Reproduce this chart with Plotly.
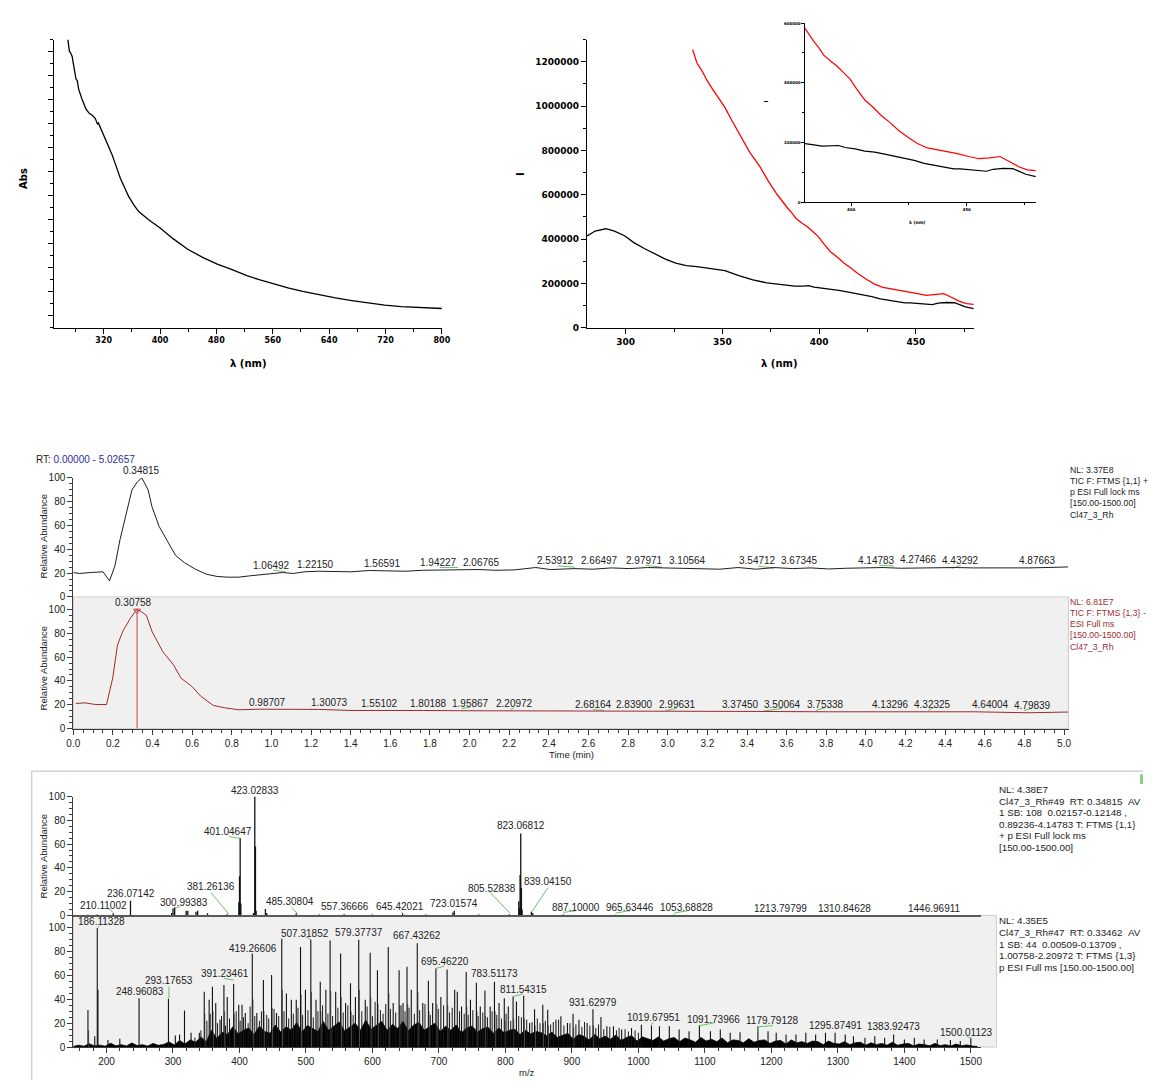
import plotly.graph_objects as go

W, H = 1152, 1086
def fx(p): return p / W
def fy(p): return 1 - p / H

# ---------------- Panel A: absorbance ----------------
abs_wl = [269.0, 271.4, 273.0, 275.2, 277.0, 280.8, 282.5, 284.5, 289.2, 294.8,
          299.5, 304.1, 308.0, 311.1, 312.5, 315.5, 320.4, 326.4, 332.1, 337.9,
          343.7, 349.6, 355.4, 362.6, 369.4, 383.4, 399.7, 418.4, 439.3, 460.4,
          481.2, 502.3, 523.2, 541.9, 560.5, 581.6, 602.4, 625.6, 649.0, 672.3,
          695.7, 718.9, 742.3, 770.3, 800.0]
abs_val = [1.205, 1.152, 1.145, 1.131, 1.100, 1.035, 1.030, 0.994, 0.953, 0.911,
           0.893, 0.884, 0.872, 0.849, 0.853, 0.833, 0.801, 0.760, 0.719, 0.671,
           0.623, 0.584, 0.547, 0.513, 0.485, 0.451, 0.416, 0.371, 0.327, 0.293,
           0.265, 0.242, 0.217, 0.199, 0.183, 0.166, 0.151, 0.137, 0.124, 0.113,
           0.103, 0.094, 0.088, 0.084, 0.080]

# ---------------- Panel B: fluorescence ----------------
fl_wl_black = [280.1, 284.2, 289.7, 294.2, 299.6, 304.2, 309.6, 315.0, 320.5, 325.9,
               331.3, 336.8, 344.0, 351.3, 358.5, 365.8, 373.0, 380.0, 383.1, 387.4,
               391.7, 394.5, 397.4, 401.7, 405.9, 410.2, 414.5, 418.7, 423.0, 427.3,
               431.6, 435.8, 440.1, 444.4, 447.2, 451.5, 455.8, 458.6, 461.5, 465.8,
               470.0, 472.9, 475.7, 480.0]
fl_black = [413900, 436200, 446600, 436200, 413900, 384100, 357300, 332000, 309700, 291800,
            279900, 275400, 268000, 257600, 235200, 215900, 202500, 196700, 193400, 187900,
            187900, 190100, 183400, 179000, 171300, 168000, 161300, 154700, 145900, 140300,
            130400, 123800, 119300, 111600, 111600, 108300, 105000, 103900, 110500, 113800,
            112700, 102800, 93900, 86200]
fl_wl_red = [334.6, 336.8, 339.5, 342.2, 344.9, 348.6, 351.3, 354.9, 359.4, 364.0,
             369.4, 373.9, 378.4, 381.7, 383.8, 386.0, 388.1, 391.0, 393.8, 396.7,
             399.5, 402.4, 405.9, 409.5, 413.0, 416.6, 420.2, 424.4, 428.7, 433.0,
             437.0, 440.0, 445.5, 450.9, 455.4, 460.0, 464.5, 468.1, 472.6, 476.3, 480.0]
fl_red = [1255100, 1195500, 1158300, 1113600, 1076400, 1031700, 994500, 935000, 868000, 793500,
          726500, 659500, 600000, 561300, 539200, 517100, 492800, 472900, 456400, 434300,
          412200, 379000, 342600, 318200, 290600, 268500, 243100, 218800, 196700, 182000,
          176000, 172700, 163800, 153300, 145900, 148900, 153300, 138500, 119100, 108700, 105700]

# ---------------- Chromatograms ----------------
chrom_t1 = [0, 0.031, 0.086, 0.150, 0.183, 0.210, 0.236, 0.265, 0.296, 0.324,
            0.346, 0.378, 0.397, 0.433, 0.470, 0.516, 0.561, 0.616, 0.671, 0.726,
            0.781, 0.835, 0.890, 0.945, 1.000, 1.055, 1.110, 1.165, 1.238, 1.311,
            1.402, 1.494, 1.585, 1.676, 1.768, 1.859, 1.950, 2.042, 2.133, 2.225,
            2.334, 2.408, 2.532, 2.623, 2.715, 2.806, 2.898, 2.989, 3.080, 3.172,
            3.263, 3.355, 3.446, 3.537, 3.629, 3.720, 3.812, 3.903, 3.995, 4.086,
            4.178, 4.269, 4.360, 4.452, 4.543, 4.635, 4.726, 4.818, 4.909, 5.020]
chrom_a1 = [20.5, 19.7, 20.5, 21.1, 13.6, 26.0, 48.2, 67.6, 89.8, 96.7,
            100, 89.8, 75.9, 59.3, 48.2, 34.9, 28.8, 23.3, 19.1, 17.2,
            16.6, 16.6, 17.7, 18.6, 19.7, 20.5, 19.7, 21.1, 21.6, 21.1,
            21.1, 22.2, 21.9, 21.6, 22.4, 22.7, 22.7, 23.0, 22.4, 22.7,
            24.7, 23.0, 23.8, 23.3, 24.4, 23.8, 24.7, 24.4, 24.1, 24.1,
            23.3, 24.7, 23.3, 24.7, 23.8, 24.4, 23.5, 24.1, 24.4, 24.7,
            24.1, 24.4, 24.1, 24.7, 24.4, 24.4, 23.8, 24.4, 24.7, 25.2]
chrom_t2 = [0.013, 0.059, 0.113, 0.168, 0.199, 0.223, 0.250, 0.287, 0.320, 0.342,
            0.369, 0.397, 0.452, 0.506, 0.543, 0.598, 0.644, 0.707, 0.762, 0.835,
            0.945, 1.091, 1.238, 1.402, 1.585, 1.768, 1.950, 2.133, 2.316, 2.532,
            2.715, 3.080, 3.446, 3.812, 4.178, 4.452, 4.543, 4.818, 5.020]
chrom_a2 = [21.1, 21.6, 20.2, 20.2, 42.4, 70.1, 81.7, 92.2, 100, 98.3,
            95.0, 81.7, 64.5, 53.5, 42.4, 35.5, 27.1, 19.4, 17.5, 15.8,
            16.3, 16.1, 16.1, 15.2, 15.5, 15.2, 15.0, 15.0, 14.7, 14.7,
            14.7, 14.4, 14.4, 14.1, 14.1, 13.6, 14.1, 13.3, 13.9]
peak_marker_t = 0.322

chrom1_lbl = ["0.34815", "1.06492", "1.22150", "1.56591", "1.94227", "2.06765", "2.53912", "2.66497",
              "2.97971", "3.10564", "3.54712", "3.67345", "4.14783", "4.27466", "4.43292", "4.87663"]
chrom1_lbl_t = [0.346, 1.000, 1.220, 1.558, 1.841, 2.061, 2.435, 2.656,
                2.885, 3.099, 3.455, 3.665, 4.055, 4.265, 4.475, 4.866]
chrom1_lbl_y = [106.2, 26.0, 27.2, 27.7, 28.8, 29.3, 30.5, 31.0,
                31.0, 31.0, 30.5, 31.0, 31.0, 31.5, 31.0, 31.0]
chrom2_lbl = ["0.30758", "0.98707", "1.30073", "1.55102", "1.80188", "1.95867", "2.20972", "2.68164", "2.83900",
              "2.99631", "3.37450", "3.50064", "3.75338", "4.13296", "4.32325", "4.64004", "4.79839"]
chrom2_lbl_t = [0.3055, 0.982, 1.293, 1.545, 1.795, 2.005, 2.225, 2.623, 2.833,
                3.049, 3.367, 3.577, 3.797, 4.126, 4.336, 4.630, 4.841]
chrom2_lbl_y = [106.2, 21.6, 21.6, 21.0, 21.0, 21.0, 21.0, 20.2, 20.2,
                20.2, 20.2, 20.2, 20.2, 20.2, 20.2, 20.2, 19.7]
chrom1_green_t = [1.009, 1.073, None, 1.850, 1.942, None, 2.444, 2.532, None, 2.888, 2.971, None,
                  3.455, 3.537, None, 4.068, 4.141, None, 4.433, 4.479]
chrom1_green_y = [22.4, 21.1, None, 24.7, 24.7, None, 26.0, 25.0, None, 26.6, 24.9, None,
                  26.0, 24.0, None, 26.6, 26.0, None, 24.0, 26.6]
chrom2_green_t = [1.960, 2.005, None, 2.207, 2.225, None, 2.623, 2.678, None, 2.989, 3.044, None,
                  3.482, 3.577, None, 3.747, 3.793, None, 4.314, 4.342, None, 4.798, 4.835]
chrom2_green_y = [16.9, 18.0, None, 16.0, 17.5, None, 16.0, 15.2, None, 15.2, 16.9, None,
                  14.7, 16.9, None, 15.2, 17.5, None, 15.2, 17.5, None, 15.2, 16.9]
chrom1_info = ["NL: 3.37E8", "TIC F: FTMS {1,1} +", "p ESI Full lock ms",
               "[150.00-1500.00]", "Cl47_3_Rh"]
chrom2_info = ["NL: 6.81E7", "TIC F: FTMS {1,3} -", "ESI Full ms",
               "[150.00-1500.00]", "Cl47_3_Rh"]

# ---------------- Mass spectra ----------------
ms1_mz = [172.1, 186.1, 210.11, 236.07, 298.0, 300.0, 302.5, 319.8, 322.3, 334.6,
          337.1, 351.9, 381.26, 399.05, 400.05, 401.05, 402.05, 421.03, 423.03, 424.03,
          425.03, 439.0, 441.0, 485.31, 520.0, 557.37, 600.0, 645.42, 680.0, 721.0,
          723.02, 760.0, 805.53, 820.07, 821.07, 822.07, 823.07, 824.07, 825.07, 839.04,
          841.0, 887.1, 965.63, 1053.69]
ms1_int = [0.5, 0.8, 1.8, 12.3, 2.0, 5.8, 6.7, 3.9, 3.9, 3.1,
           3.9, 1.7, 1.0, 11.0, 33.0, 65.0, 10.0, 2.0, 100.0, 58.0,
           4.0, 5.3, 2.0, 1.5, 0.8, 1.0, 0.8, 1.5, 0.8, 2.5,
           3.9, 0.8, 1.0, 12.0, 6.0, 34.0, 69.0, 23.0, 5.0, 3.0,
           2.0, 0.8, 0.6, 0.5]
ms1_lbl = ["423.02833", "401.04647", "823.06812", "381.26136", "236.07142", "210.11002", "300.99383",
           "485.30804", "557.36666", "645.42021", "723.01574", "805.52838", "839.04150", "887.10000",
           "965.63446", "1053.68828", "1213.79799", "1310.84628", "1446.96911"]
ms1_lbl_x = [423.7, 382.5, 823.1, 357.0, 237.5, 195.0, 317.3, 475.5, 558.4, 641.3, 723.0, 780.0,
             864.0, 906.2, 987.3, 1072.8, 1213.6, 1310.3, 1445.8]
ms1_lbl_y = [104.9, 70.3, 75.3, 23.9, 18.1, 8.0, 11.1, 11.8, 7.25, 7.25, 10.0, 22.9,
             28.6, 6.7, 6.4, 6.4, 5.8, 5.8, 5.6]
ms1_green_mz = [203, 210, None, 301, 311, None, 357, 384, None, 384, 401.4, None, 478, 488, None,
                643.6, 646, None, 777, 807, None, 864, 839, None, 887, 906, None, 966, 987, None, 1054, 1074]
ms1_green_int = [5.5, 2.5, None, 5.8, 7.5, None, 19.2, 1.1, None, 66.4, 64.7, None, 6.7, 1.1, None,
                 2.5, 1.5, None, 19.2, 1.9, None, 23.3, 2.5, None, 2.5, 3.9, None, 2.0, 3.9, None, 2.0, 3.9]

ms2_mz = [172.1, 182.3, 186.11, 187.11, 202.1, 220.0, 248.96, 293.18, 303.5, 309.9,
          317.3, 327.2, 339.6, 347.0, 354.4, 359.3, 364.3, 370.7, 376.6, 381.6,
          391.23, 398.9, 403.8, 408.8, 419.27, 426.1, 436.0, 448.3, 455.7, 463.6,
          470.6, 478.0, 485.4, 491.8, 499.2, 507.32, 515.1, 521.5, 529.9, 536.3,
          544.7, 552.1, 559.6, 567.0, 574.4, 579.38, 589.2, 596.6, 607.5, 623.8,
          631.2, 640.1, 646.0, 652.0, 658.4, 667.43, 675.7, 684.1, 690.5, 695.46,
          702.9, 712.3, 723.7, 727.6, 734.0, 741.0, 747.4, 756.3, 762.2, 769.2,
          777.1, 783.51, 790.4, 798.3, 804.3, 811.54, 816.6, 827.5, 836.4, 843.8,
          856.2, 863.6, 876.0, 883.4, 893.3, 901.7, 910.6, 922.9, 931.63, 943.7,
          952.6, 962.5, 974.8, 989.7, 1004.5, 1019.68, 1031.7, 1046.5, 1061.3, 1076.2,
          1091.74, 1108.4, 1123.2, 1138.1, 1152.9, 1179.79, 1195.0, 1207.3, 1222.1, 1237.0,
          1251.8, 1266.6, 1281.4, 1295.87, 1311.1, 1323.5, 1340.8, 1355.6, 1370.4, 1383.92,
          1400.1, 1415.0, 1429.8, 1449.5, 1469.3, 1484.2, 1500.01]
ms2_int = [31, 9, 100, 48, 5.8, 7, 41, 40.5, 9.7, 10.5,
           30.7, 12, 12, 46.5, 39.6, 50.7, 37, 23, 52, 42,
           53, 35.5, 35.5, 28.5, 78.4, 28.5, 56.2, 60.4, 28.5, 90.8,
           45, 39.6, 39.6, 84, 48, 90, 39.6, 54.8, 48, 89.4,
           46.5, 78.4, 37, 53.5, 42, 90, 39.6, 79.2, 64.5, 84,
           37, 64.5, 37, 67.3, 48, 87.2, 37, 55.7, 37, 66,
           42, 65, 48, 46.5, 34, 63, 39.6, 54, 34, 47.4,
           34, 54.8, 37, 41, 34, 42.4, 38.2, 43, 20.2, 31.8,
           35.5, 31.3, 23, 25.8, 20.2, 28, 23, 20.2, 31.8, 25.2,
           17.5, 17.5, 14.7, 16, 18.8, 18, 17.5, 17.5, 14.7, 13.3,
           18, 13.3, 14.7, 12, 12.5, 17.5, 13.3, 12, 10.5, 10.5,
           12, 10.5, 12, 12, 10.5, 9, 7.8, 9, 7.8, 10.5,
           6.4, 7.8, 6.4, 6.4, 5.8, 5, 7.8]
ms2_sat_mz = [173.1, 347.9, 360.3, 377.6, 392.2, 420.3, 437.0, 449.3, 464.6, 492.8,
              508.3, 522.5, 537.3, 553.1, 568.0, 580.4, 597.6, 608.5, 624.8, 641.1,
              653.0, 668.4, 685.1, 697.0, 713.3, 742.0, 757.3, 770.2, 784.5, 799.3,
              812.5, 828.5, 844.8, 857.2, 864.6, 902.7, 932.6]
ms2_sat_int = [14, 28, 30, 30, 28, 40, 30, 33, 48, 44,
               46, 30, 47, 42, 30, 48, 42, 36, 45, 35,
               36, 46, 30, 36, 35, 34, 30, 26, 30, 22,
               24, 24, 18, 20, 18, 16, 18]
ms2_mid_mz = [333, 342, 351, 356, 367, 373, 379, 385, 395, 401,
              406, 413, 416, 423, 430, 433, 441, 444, 452, 459,
              467, 474, 481, 488, 495, 503, 511, 518, 525, 533,
              540, 548, 556, 563, 571, 584, 592, 600, 604, 612,
              616, 620, 627, 635, 643, 649, 655, 663, 671, 679,
              687, 699, 707, 716, 720, 731, 738, 744, 751, 759,
              766, 773, 780, 787, 794, 801, 808, 820, 824, 832,
              840, 848, 852, 860, 868, 872, 880, 888, 897, 906,
              915, 919, 927, 936, 940, 948, 957, 967, 971, 980,
              985, 995, 1000]
ms2_mid_int = [8, 14, 22, 28, 20, 26, 18, 24, 30, 22,
               25, 20, 34, 26, 22, 30, 27, 24, 32, 26,
               30, 24, 28, 33, 27, 31, 25, 30, 35, 28,
               26, 33, 29, 35, 27, 30, 34, 26, 38, 31,
               28, 36, 32, 29, 35, 30, 33, 28, 31, 36,
               27, 32, 35, 29, 33, 30, 28, 27, 31, 26,
               29, 25, 30, 27, 24, 28, 22, 26, 25, 23,
               21, 24, 20, 22, 19, 21, 23, 18, 20, 19,
               17, 21, 18, 16, 19, 15, 17, 14, 16, 15,
               13, 14, 12]
ms2_floor_mz = list(range(150, 1511, 8))
ms2_floor_int = [0.5, 1.5, 0.6, 2.8, 0.8, 1.6, 0.7, 3.2, 1.0, 2.0,
                 0.9, 3.4, 1.2, 2.0, 0.8, 3.0, 1.4, 2.2, 4.2, 1.8,
                 5.5, 2.6, 6.0, 4.0, 8.5, 4.5, 14.0, 7.0, 12.5, 10.5,
                 17.0, 11.0, 14.0, 16.0, 10.5, 17.5, 13.0, 11.5, 18.5, 12.5,
                 17.0, 14.0, 20.5, 12.5, 18.0, 15.5, 13.0, 21.5, 14.0, 17.5,
                 21.0, 13.5, 17.0, 20.0, 14.0, 22.5, 15.0, 18.5, 21.5, 14.0,
                 19.0, 15.5, 21.5, 13.5, 18.5, 20.5, 14.0, 17.0, 20.0, 13.0,
                 17.5, 14.0, 18.5, 12.0, 16.0, 17.5, 12.5, 15.5, 16.5, 11.5,
                 16.0, 12.0, 14.0, 15.0, 10.5, 14.0, 11.0, 13.0, 12.0, 9.5,
                 12.5, 8.0, 10.0, 11.5, 6.5, 10.5, 9.0, 6.0, 10.5, 7.0,
                 9.0, 6.5, 10.0, 5.5, 8.0, 9.5, 5.0, 8.5, 7.0, 5.5,
                 8.5, 5.0, 7.0, 8.0, 4.5, 7.5, 6.0, 4.0, 8.0, 5.0,
                 6.5, 4.5, 7.5, 3.5, 6.0, 5.5, 3.5, 7.0, 4.0, 5.5,
                 6.0, 3.0, 5.0, 5.5, 2.5, 6.0, 3.5, 4.5, 3.0, 5.0,
                 4.5, 2.0, 5.0, 3.0, 2.5, 4.5, 2.0, 3.5, 4.0, 1.5,
                 3.5, 2.0, 3.0, 1.5, 4.0, 1.5, 2.5, 3.0, 1.0, 2.5,
                 2.0, 1.0, 3.0, 1.2, 2.0, 0.8, 2.5, 1.0, 1.8, 0.8, 0.5]
ms2_lbl = ["186.11328", "248.96083", "293.17653", "391.23461", "419.26606", "507.31852", "579.37737",
           "667.43262", "695.46220", "783.51173", "811.54315", "931.62979", "1019.67951", "1091.73966",
           "1179.79128", "1295.87491", "1383.92473", "1500.01123"]
ms2_lbl_x = [192.8, 249.8, 294.4, 378.6, 420.4, 499.0, 579.5, 667.4, 708.6, 783.0, 827.2,
             931.6, 1022.0, 1113.3, 1202.3, 1295.8, 1384.3, 1493.5]
ms2_lbl_y = [105.5, 46.5, 55.7, 61.5, 83.1, 95.5, 96.3, 93.5, 71.5, 61.5, 48.5,
             37.2, 24.5, 23.5, 22.4, 18.2, 17.0, 12.0]
ms2_green_mz = [189.3, 186.5, None, 293.9, 293.9, None, 376.6, 391.5, None, 500.2, 507.6, None,
                695.5, 707.9, None, 811.7, 826.5, None, 1019.3, 1021.6, None, 1092.6, 1113.4, None,
                1180.1, 1180.1, 1202.3, None, 1494, 1500]
ms2_green_int = [101.3, 100, None, 50.7, 41, None, 57.6, 56.2, None, 92.2, 90, None,
                 66, 67.9, None, 42.4, 44.6, None, 18, 20.8, None, 18, 20.2, None,
                 12, 17, 18, None, 9.2, 7.2]
ms1_info = ["NL: 4.38E7", "Cl47_3_Rh#49\u00a0\u00a0RT: 0.34815\u00a0\u00a0AV",
            "1 SB: 108\u00a0\u00a00.02157-0.12148 ,", "0.89236-4.14783 T: FTMS {1,1}",
            "+ p ESI Full lock ms", "[150.00-1500.00]"]
ms2_info = ["NL: 4.35E5", "Cl47_3_Rh#47\u00a0\u00a0RT: 0.33462\u00a0\u00a0AV",
            "1 SB: 44\u00a0\u00a00.00509-0.13709 ,", "1.00758-2.20972 T: FTMS {1,3}",
            "p ESI Full ms [150.00-1500.00]"]


def sticks(mz, h):
    xs, ys = [], []
    for m, v in zip(mz, h):
        xs += [m, m, None]
        ys += [0, v, None]
    return xs, ys


fig = go.Figure()
# Panel A
fig.add_trace(go.Scatter(x=abs_wl, y=abs_val, mode="lines", line=dict(color="black", width=1.3),
                         xaxis="x", yaxis="y"))
# Panel B main + inset
for xa, ya, w in (("x2", "y2", 1.3), ("x3", "y3", 1.2)):
    fig.add_trace(go.Scatter(x=fl_wl_black, y=fl_black, mode="lines", line=dict(color="black", width=w),
                             xaxis=xa, yaxis=ya))
    fig.add_trace(go.Scatter(x=fl_wl_red, y=fl_red, mode="lines", line=dict(color="#ff0000", width=w),
                             xaxis=xa, yaxis=ya))
# chromatograms
GREEN = "#6cbf6c"
fig.add_trace(go.Scatter(x=chrom1_green_t, y=chrom1_green_y, mode="lines", line=dict(color=GREEN, width=1),
                         xaxis="x4", yaxis="y4"))
fig.add_trace(go.Scatter(x=chrom_t1, y=chrom_a1, mode="lines", line=dict(color="#1e1e1e", width=1),
                         xaxis="x4", yaxis="y4", cliponaxis=False))
fig.add_trace(go.Scatter(x=chrom2_green_t, y=chrom2_green_y, mode="lines", line=dict(color=GREEN, width=1),
                         xaxis="x5", yaxis="y5"))
fig.add_trace(go.Scatter(x=chrom_t2, y=chrom_a2, mode="lines", line=dict(color="#9c2a2a", width=1),
                         xaxis="x5", yaxis="y5"))
fig.add_trace(go.Scatter(x=[peak_marker_t, peak_marker_t], y=[0, 100], mode="lines",
                         line=dict(color="#c8423f", width=1), xaxis="x5", yaxis="y5"))
fig.add_trace(go.Scatter(x=[peak_marker_t], y=[99], mode="markers",
                         marker=dict(symbol="triangle-down-open", size=6, color="#c8423f", line=dict(width=1)),
                         xaxis="x5", yaxis="y5"))
# MS top
sx, sy = sticks(ms1_mz, ms1_int)
fig.add_trace(go.Scatter(x=ms1_green_mz, y=ms1_green_int, mode="lines", line=dict(color=GREEN, width=1),
                         xaxis="x6", yaxis="y6"))
fig.add_trace(go.Scatter(x=sx, y=sy, mode="lines", line=dict(color="#111111", width=1.3),
                         xaxis="x6", yaxis="y6"))
# MS bottom
fig.add_trace(go.Scatter(x=ms2_floor_mz, y=ms2_floor_int, mode="lines", fill="tozeroy",
                         fillcolor="#000000", line=dict(color="#000000", width=0.8),
                         xaxis="x7", yaxis="y7"))
sx, sy = sticks(ms2_sat_mz, ms2_sat_int)
fig.add_trace(go.Scatter(x=sx, y=sy, mode="lines", line=dict(color="#6a6a6a", width=1),
                         xaxis="x7", yaxis="y7"))
sx, sy = sticks(ms2_mid_mz, ms2_mid_int)
fig.add_trace(go.Scatter(x=sx, y=sy, mode="lines", line=dict(color="#1a1a1a", width=1),
                         xaxis="x7", yaxis="y7"))
sx, sy = sticks(ms2_mz, ms2_int)
fig.add_trace(go.Scatter(x=sx, y=sy, mode="lines", line=dict(color="#111111", width=1.1),
                         xaxis="x7", yaxis="y7"))
fig.add_trace(go.Scatter(x=ms2_green_mz, y=ms2_green_int, mode="lines", line=dict(color=GREEN, width=1),
                         xaxis="x7", yaxis="y7"))

BOLD = dict(family="DejaVu Sans", color="black", weight="bold")
ARIAL = "Liberation Sans"


def origin_axis(domain, rng, anchor, fsize, **kw):
    d = dict(domain=domain, range=rng, anchor=anchor, showline=True, linecolor="black", linewidth=1.2,
             ticks="outside", ticklen=5, tickwidth=1.2, tickcolor="black", showgrid=False, zeroline=False,
             tickfont=dict(size=fsize, **BOLD))
    d.update(kw)
    return d


def xc_axis(domain, rng, anchor, **kw):
    d = dict(domain=domain, range=rng, anchor=anchor, showline=True, linecolor="#3c3c3c", linewidth=1,
             ticks="outside", ticklen=5, tickwidth=1, tickcolor="#3c3c3c", showgrid=False, zeroline=False,
             tickfont=dict(family=ARIAL, size=10, color="#222222"))
    d.update(kw)
    return d


minor_y = dict(tickmode="array", tickvals=[v for v in range(5, 100, 5) if v % 20], ticks="outside",
               ticklen=3, tickcolor="#3c3c3c", tickwidth=1)
yvals = [0, 20, 40, 60, 80, 100]

layout = dict(
    width=W, height=H, margin=dict(l=0, r=0, t=0, b=0), showlegend=False,
    paper_bgcolor="white", plot_bgcolor="rgba(0,0,0,0)",
    font=dict(family=ARIAL, size=10, color="#222222"),
    xaxis=origin_axis([fx(48), fx(441)], [250, 800], "y", 8, tick0=320, dtick=80,
                      minor=dict(dtick=40, ticks="outside", ticklen=3, tickcolor="black", tickwidth=1)),
    yaxis=origin_axis([fy(326), fy(35)], [0, 1.2], "x", 8, tick0=0.05, dtick=0.1, showticklabels=False,
                      minor=dict(dtick=0.05, ticks="outside", ticklen=3, tickcolor="black", tickwidth=1)),
    xaxis2=origin_axis([fx(588.2), fx(980.4)], [280, 480], "y2", 9, tick0=300, dtick=50,
                       minor=dict(dtick=25, ticks="outside", ticklen=3, tickcolor="black", tickwidth=1)),
    yaxis2=origin_axis([fy(326), fy(35)], [0, 1300000], "x2", 9, tick0=0, dtick=200000, tickformat="d",
                       minor=dict(dtick=100000, ticks="outside", ticklen=3, tickcolor="black", tickwidth=1)),
    xaxis3=origin_axis([fx(809.3), fx(1043.3)], [380, 480], "y3", 4, tick0=400, dtick=50, ticklen=2.5,
                       tickwidth=1,
                       minor=dict(dtick=25, ticks="outside", ticklen=1.5, tickcolor="black", tickwidth=1)),
    yaxis3=origin_axis([fy(199.3), fy(18.3)], [0, 600000], "x3", 4, tick0=0, dtick=200000, tickformat="d",
                       ticklen=2.5, tickwidth=1,
                       minor=dict(dtick=100000, ticks="outside", ticklen=1.5, tickcolor="black", tickwidth=1)),
    xaxis4=dict(domain=[fx(67.2), fx(1077.3)], range=[0, 5.02657], anchor="y4", visible=False),
    yaxis4=xc_axis([fy(598), fy(477.7)], [0, 100], "x4", tickmode="array", tickvals=yvals, minor=minor_y),
    xaxis5=xc_axis([fx(67.2), fx(1077.3)], [0, 5.02657], "y5", tick0=0, dtick=0.2, tickformat=".1f",
                   minor=dict(dtick=0.05, ticks="outside", ticklen=3, tickcolor="#3c3c3c", tickwidth=1)),
    yaxis5=xc_axis([fy(731), fy(598)], [0, 110.5], "x5", tickmode="array", tickvals=yvals, minor=minor_y),
    xaxis6=dict(domain=[fx(67.2), fx(987.5)], range=[150, 1515], anchor="y6", showline=True,
                linecolor="#5a5a5a", linewidth=2, showticklabels=False, ticks="", showgrid=False,
                zeroline=False),
    yaxis6=xc_axis([fy(919.7), fy(799.7)], [0, 100], "x6", tickmode="array", tickvals=yvals, minor=minor_y),
    xaxis7=xc_axis([fx(67.2), fx(987.5)], [150, 1515], "y7", tick0=200, dtick=100,
                   minor=dict(dtick=20, ticks="outside", ticklen=3, tickcolor="#3c3c3c", tickwidth=1)),
    yaxis7=xc_axis([fy(1052.7), fy(919.7)], [0, 110.5], "x7", tickmode="array", tickvals=yvals,
                   minor=minor_y),
)
fig.update_layout(**layout)

shapes = [
    dict(type="rect", xref="paper", yref="paper", x0=fx(67.2), x1=fx(1076.4), y0=fy(731), y1=fy(598),
         fillcolor="#f0f0f0", line=dict(color="#cccccc", width=1), layer="below"),
    dict(type="rect", xref="paper", yref="paper", x0=fx(67.2), x1=fx(1003.3), y0=fy(1052.7), y1=fy(919.7),
         fillcolor="#f0f0f0", line=dict(color="#cccccc", width=1), layer="below"),
    dict(type="path", xref="paper", yref="paper",
         path=f"M {fx(25)} {fy(1086)} L {fx(25)} {fy(774)} L {fx(1152)} {fy(774)}",
         line=dict(color="#d2d2d2", width=1.5), layer="below"),
    dict(type="rect", xref="paper", yref="paper", x0=fx(1149), x1=fx(1152), y0=fy(787), y1=fy(777),
         fillcolor="#88d088", line=dict(width=0), layer="below"),
]
fig.update_layout(shapes=shapes)

ann = []


def txt(x, y, s, size=10, color="#222222", family=ARIAL, xanchor="center", angle=0, xref="paper",
        yref="paper"):
    ann.append(dict(x=x, y=y, xref=xref, yref=yref, text=s, showarrow=False, xanchor=xanchor,
                    yanchor="middle", textangle=angle, font=dict(size=size, color=color, family=family)))


# panel titles
txt(fx(16), fy(175), "<b>Abs</b>", 10, "black", "DejaVu Sans", angle=-90)
txt(fx(245), fy(362), "<b>λ (nm)</b>", 10, "black", "DejaVu Sans")
txt(fx(521), fy(171), "<b>I</b>", 10, "black", "DejaVu Sans", angle=-90)
txt(fx(783), fy(362), "<b>λ (nm)</b>", 10, "black", "DejaVu Sans")
txt(fx(769.6), fy(97.7), "<b>I</b>", 5.5, "black", "DejaVu Sans", angle=-90)
txt(fx(923), fy(220), "<b>λ (nm)</b>", 4.5, "black", "DejaVu Sans")

# chromatogram texts
txt(fx(27.6), fy(459.3), "RT: <span style='color:#2c2c9c'>0.00000 - 5.02657</span>", 10, "#222222",
    xanchor="left")
txt(fx(36.7), fy(536.7), "Relative Abundance", 9.5, angle=-90)
txt(fx(36.7), fy(670), "Relative Abundance", 9.5, angle=-90)
txt(fx(572), fy(756.7), "Time (min)", 9.5)
# labels: x through the data axis, y mapped from the axis' own pixel scale (labels may sit above 100 %)
for s, t, v in zip(chrom1_lbl, chrom1_lbl_t, chrom1_lbl_y):
    txt(t, fy(598 - v * 1.203), s, 10, xref="x4")
for s, t, v in zip(chrom2_lbl, chrom2_lbl_t, chrom2_lbl_y):
    txt(t, v, s, 10, xref="x5", yref="y5")
for i, s in enumerate(chrom1_info):
    txt(fx(1075.6), fy(470 + i * 11.2), s, 8.7, "#222222", xanchor="left")
for i, s in enumerate(chrom2_info):
    txt(fx(1075.6), fy(603.3 + i * 11.2), s, 8.7, "#9b2d30", xanchor="left")

# spectrum texts
txt(fx(36.7), fy(860), "Relative Abundance", 9.5, angle=-90)
txt(fx(527), fy(1078.3), "m/z", 9.5)
for s, m, v in zip(ms1_lbl, ms1_lbl_x, ms1_lbl_y):
    txt(m, fy(919.7 - v * 1.2), s, 10, xref="x6")
for s, m, v in zip(ms2_lbl, ms2_lbl_x, ms2_lbl_y):
    txt(m, v, s, 10, xref="x7", yref="y7")
for i, s in enumerate(ms1_info):
    txt(fx(1003.5), fy(792.7 + i * 11.7), s, 9.8, "#222222", xanchor="left")
for i, s in enumerate(ms2_info):
    txt(fx(1003.5), fy(925.3 + i * 11.8), s, 9.8, "#222222", xanchor="left")

fig.update_layout(annotations=ann)
fig.write_html("out.html", config={"displayModeBar": False})
